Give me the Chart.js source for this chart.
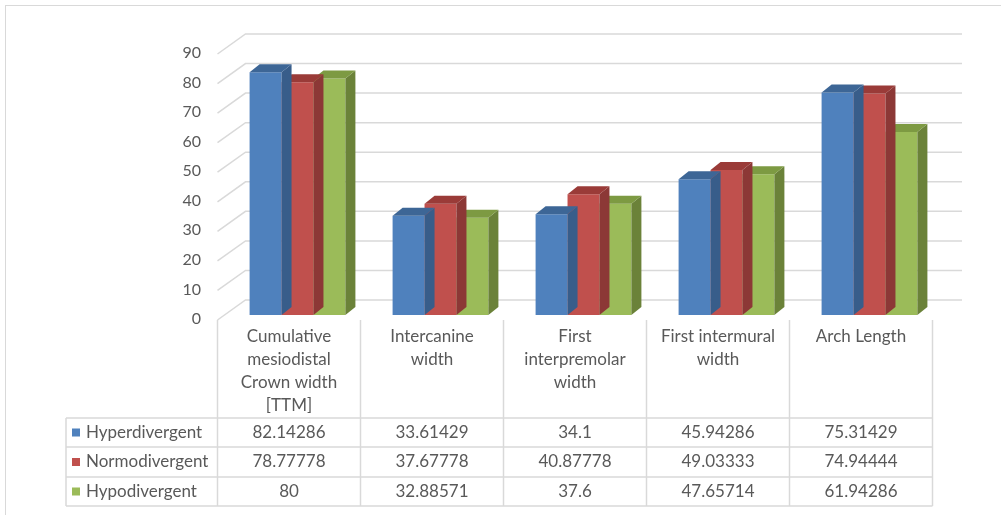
<!DOCTYPE html>
<html>
<head>
<meta charset="utf-8">
<script src="https://cdn.jsdelivr.net/npm/chart.js@4/dist/chart.umd.min.js"></script>
<style>
  body { margin: 0; background: #fff; }
  canvas { display: block; }
</style>
</head>
<body>
<canvas id="barChart" width="1001" height="515"></canvas>
<script>
var categories = [
  ['Cumulative', 'mesiodistal', 'Crown width', '[TTM]'],
  ['Intercanine', 'width'],
  ['First', 'interpremolar', 'width'],
  ['First intermural', 'width'],
  ['Arch Length']
];
var seriesNames = ['Hyperdivergent', 'Normodivergent', 'Hypodivergent'];
var hyperValues = [82.14286, 33.61429, 34.1, 45.94286, 75.31429];
var normoValues = [78.77778, 37.67778, 40.87778, 49.03333, 74.94444];
var hypoValues = [80, 32.88571, 37.6, 47.65714, 61.94286];
var tableText = [
  ['82.14286', '33.61429', '34.1', '45.94286', '75.31429'],
  ['78.77778', '37.67778', '40.87778', '49.03333', '74.94444'],
  ['80', '32.88571', '37.6', '47.65714', '61.94286']
];

// front / top / side colours for each series
var faceColors = [
  ['#4F81BD', '#3D6696', '#385D8A'],
  ['#C0504D', '#9A3B38', '#8C3836'],
  ['#9BBB59', '#7D9A42', '#6B8239']
];
var FONT = '17px Lato, "Open Sans", sans-serif';
var GRID = '#D9D9D9';
var DX = 10, DY = 8;        // bar depth
var SHIFT = 8.5;            // bars sit a little back from the floor front

var walls = {
  id: 'walls',
  beforeDraw: function(chart) {
    var c = chart.ctx;
    c.save();
    c.fillStyle = '#fff';
    c.fillRect(0, 0, chart.width, chart.height);
    c.strokeStyle = GRID;
    c.lineWidth = 1;
    c.strokeRect(5.5, 5.5, 1100, 600);
    c.restore();
  },
  beforeDatasetsDraw: function(chart) {
    var c = chart.ctx, y = chart.scales.y, a = chart.chartArea;
    c.save();
    c.strokeStyle = GRID;
    c.lineWidth = 1.5;
    y.ticks.forEach(function(t) {
      var py = y.getPixelForValue(t.value);
      c.beginPath();
      c.moveTo(a.left - SHIFT, py + 5);
      c.lineTo(a.left + 19.5, py - 15);
      c.lineTo(a.right + 21, py - 15);
      c.stroke();
    });
    c.restore();
  },
  afterDatasetDraw: function(chart, args) {
    var c = chart.ctx, i = args.index;
    var meta = chart.getDatasetMeta(i);
    c.save();
    meta.data.forEach(function(bar) {
      var l = bar.x - bar.width / 2, r = bar.x + bar.width / 2;
      var top = bar.y, base = bar.base;
      // side face
      c.fillStyle = faceColors[i][2];
      c.beginPath();
      c.moveTo(r, top);
      c.lineTo(r + DX, top - DY);
      c.lineTo(r + DX, base - DY);
      c.lineTo(r, base);
      c.closePath();
      c.fill();
      // top face
      c.fillStyle = faceColors[i][1];
      c.beginPath();
      c.moveTo(l, top);
      c.lineTo(l + DX, top - DY);
      c.lineTo(r + DX, top - DY);
      c.lineTo(r, top);
      c.closePath();
      c.fill();
    });
    c.restore();
  },
  afterDraw: function(chart) {
    var c = chart.ctx, x = chart.scales.x, a = chart.chartArea;
    var colW = x.getPixelForValue(1) - x.getPixelForValue(0);
    var left = a.left - SHIFT;
    var right = left + colW * categories.length;
    var headTop = chart.scales.y.getPixelForValue(0) + 5;
    var rowY = [418, 447, 477, 506];
    var legLeft = 66;
    c.save();
    c.strokeStyle = GRID;
    c.lineWidth = 1.5;
    // vertical lines
    for (var k = 0; k <= categories.length; k++) {
      var vx = left + colW * k;
      c.beginPath();
      c.moveTo(vx, headTop);
      c.lineTo(vx, rowY[3]);
      c.stroke();
    }
    c.beginPath();
    c.moveTo(legLeft, rowY[0]);
    c.lineTo(legLeft, rowY[3]);
    c.stroke();
    rowY.forEach(function(ry) {
      c.beginPath();
      c.moveTo(legLeft, ry);
      c.lineTo(right, ry);
      c.stroke();
    });

    c.font = FONT;
    c.textBaseline = 'middle';
    c.textAlign = 'center';
    c.fillStyle = '#595959';
    categories.forEach(function(lines, j) {
      var cx = x.getPixelForValue(j) - SHIFT;
      lines.forEach(function(s, n) {
        c.fillText(s, cx, 337 + n * 23);
      });
    });

    seriesNames.forEach(function(name, r) {
      var cy = (rowY[r] + rowY[r + 1]) / 2;
      c.fillStyle = faceColors[r][0];
      c.fillRect(72, cy - 4, 8, 8);
      c.fillStyle = '#595959';
      c.textAlign = 'left';
      c.fillText(name, 86, cy);
      c.textAlign = 'center';
      tableText[r].forEach(function(v, j) {
        c.fillText(v, x.getPixelForValue(j) - SHIFT, cy);
      });
    });
    c.restore();
  }
};

var ctx = document.getElementById('barChart');
var barChart = new Chart(ctx, {
  type: 'bar',
  data: {
    labels: categories.map(function(l) { return l.join(' '); }),
    datasets: [
      { label: seriesNames[0], data: hyperValues, backgroundColor: faceColors[0][0] },
      { label: seriesNames[1], data: normoValues, backgroundColor: faceColors[1][0] },
      { label: seriesNames[2], data: hypoValues, backgroundColor: faceColors[2][0] }
    ]
  },
  options: {
    responsive: false,
    animation: false,
    layout: { padding: { left: 0, right: 60, top: 49, bottom: 200 } },
    datasets: { bar: { categoryPercentage: 0.67, barPercentage: 1.0 } },
    plugins: { legend: { display: false }, tooltip: { enabled: false } },
    scales: {
      x: { display: false },
      y: {
        min: 0,
        max: 90,
        afterFit: function(s) { s.width = 226; },
        border: { display: false },
        grid: { display: false, drawTicks: false },
        ticks: {
          stepSize: 10,
          padding: 25,
          labelOffset: 4,
          color: '#595959',
          font: { family: 'Lato, "Open Sans", sans-serif', size: 16 }
        }
      }
    }
  },
  plugins: [walls]
});
</script>
</body>
</html>
